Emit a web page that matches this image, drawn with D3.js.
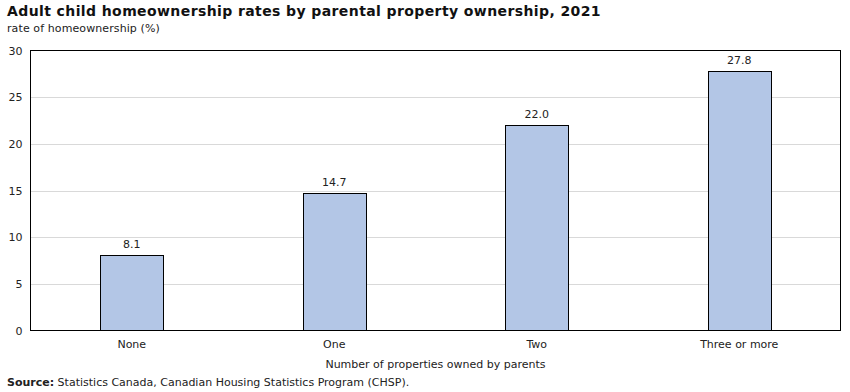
<!DOCTYPE html>
<html><head><meta charset="utf-8">
<script src="https://cdn.jsdelivr.net/npm/d3@7"></script>
<style>body{margin:0;background:#fff}svg{display:block;font-family:"DejaVu Sans",Verdana,sans-serif}</style>
</head><body><svg id="c" width="850" height="392"></svg>
<script>
const categories = ["None","One","Two","Three or more"];
const values = [8.1,14.7,22.0,27.8];
const yTicks = [0,5,10,15,20,25,30];
const title = "Adult child homeownership rates by parental property ownership, 2021";
const yTitle = "rate of homeownership (%)";
const xTitle = "Number of properties owned by parents";

const svg = d3.select("#c");
const L=30.5,R=840.5,T=50.5,B=330.5;
const x = d3.scaleBand().domain(categories).range([L,R]).paddingInner(0.69).paddingOuter(0.345);
const y = d3.scaleLinear().domain([0,30]).range([B,T]);

svg.append("text").attr("x",7).attr("y",16).attr("font-weight","bold").attr("font-size",14).attr("letter-spacing",0.4).attr("fill","#111").text(title);
svg.append("text").attr("x",7).attr("y",32).attr("font-size",11).attr("letter-spacing",0.1).attr("fill","#222").text(yTitle);

svg.append("g").selectAll("line").data(yTicks.filter(d=>d>0&&d<30)).join("line")
  .attr("x1",L).attr("x2",R).attr("y1",d=>Math.round(y(d))+0.5).attr("y2",d=>Math.round(y(d))+0.5)
  .attr("stroke","#d9d9d9");

const yAxis = svg.append("g").attr("transform",`translate(${L},0)`)
  .call(d3.axisLeft(y).tickValues(yTicks).tickSize(0).tickPadding(8));
yAxis.select(".domain").remove();
yAxis.selectAll("text").attr("font-size",11).attr("fill","#222").attr("font-family","DejaVu Sans");

svg.append("g").selectAll("rect").data(values).join("rect")
  .attr("x",(d,i)=>Math.round(x(categories[i]))+0.5).attr("width",Math.round(x.bandwidth()))
  .attr("y",d=>Math.round(y(d))+0.5).attr("height",d=>B-Math.round(y(d))-0.5)
  .attr("fill","#b3c6e6").attr("stroke","#000").attr("stroke-width",1);

svg.append("g").selectAll("text").data(values).join("text")
  .attr("x",(d,i)=>x(categories[i])+x.bandwidth()/2).attr("y",d=>y(d)-7)
  .attr("text-anchor","middle").attr("font-size",11).attr("fill","#222").text(d=>d.toFixed(1));

svg.append("rect").attr("x",L).attr("y",T).attr("width",R-L).attr("height",B-T)
  .attr("fill","none").attr("stroke","#000").attr("stroke-width",1);

const xAxis = svg.append("g").attr("transform",`translate(0,${B})`)
  .call(d3.axisBottom(x).tickSize(0).tickPadding(10));
xAxis.select(".domain").remove();
xAxis.selectAll("text").attr("font-size",11).attr("fill","#222").attr("font-family","DejaVu Sans");

svg.append("text").attr("x",(L+R)/2).attr("y",368).attr("text-anchor","middle").attr("font-size",11).attr("fill","#222").text(xTitle);

const src = svg.append("text").attr("x",7).attr("y",386).attr("font-size",11).attr("fill","#222");
src.append("tspan").attr("font-weight","bold").text("Source:");
src.append("tspan").text(" Statistics Canada, Canadian Housing Statistics Program (CHSP).");
</script></body></html>
